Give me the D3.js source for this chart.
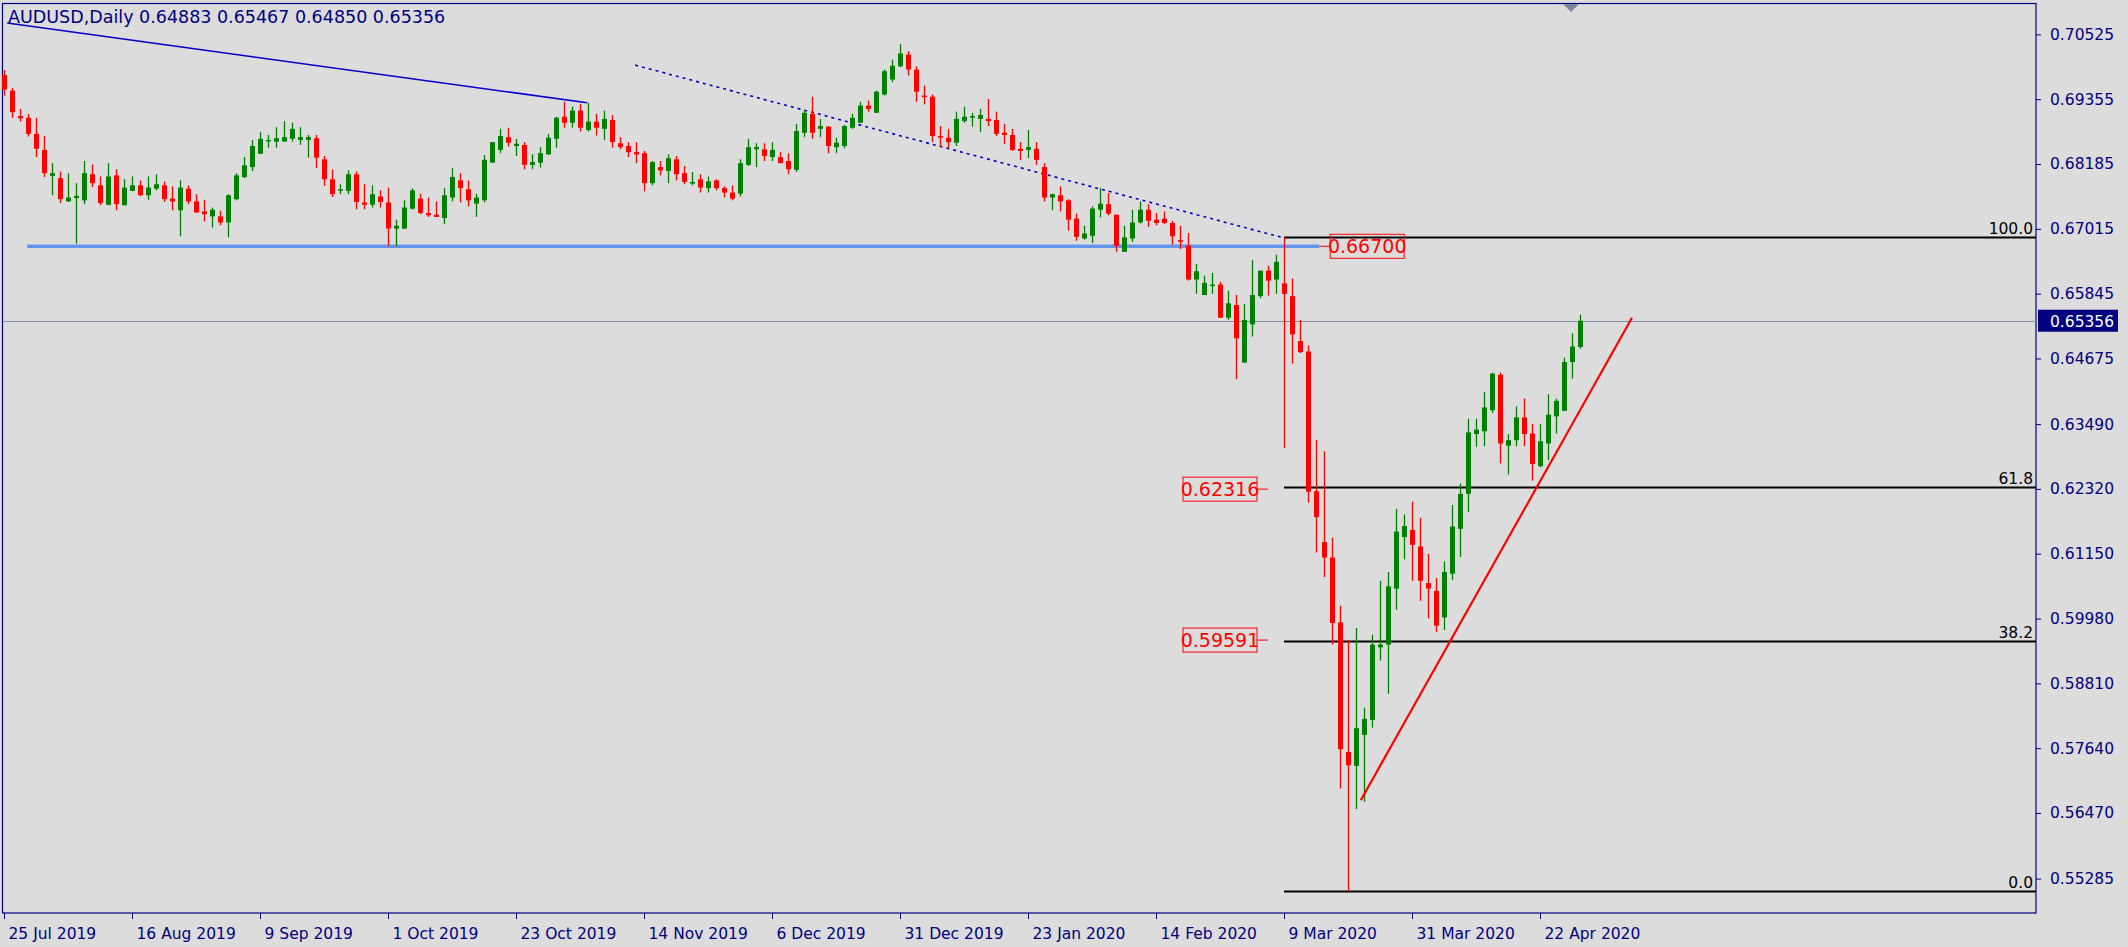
<!DOCTYPE html>
<html>
<head>
<meta charset="utf-8">
<script src="https://cdn.jsdelivr.net/npm/d3@7"></script>
<style>
  html, body { margin: 0; padding: 0; background: #dcdcdc; }
  svg { display: block; }
  text { font-family: "DejaVu Sans", Verdana, sans-serif; }
</style>
</head>
<body>
<svg width="2128" height="947"></svg>
<script>
const svg = d3.select("svg");
const width = +svg.attr("width");
const height = +svg.attr("height");

// daily AUDUSD candles
const open = [
  0.6979,0.6951,0.6905,0.6902,0.6873,0.6844,0.6797,0.6793,0.6751,0.6757,
  0.6753,0.6800,0.6780,0.6745,0.6798,0.6744,0.6770,0.6780,0.6762,0.6774,
  0.6780,0.6756,0.6735,0.6774,0.6751,0.6733,0.6724,0.6724,0.6713,0.6755,
  0.6795,0.6813,0.6837,0.6861,0.6859,0.6859,0.6864,0.6862,0.6862,0.6865,
  0.6827,0.6791,0.6771,0.6770,0.6800,0.6749,0.6745,0.6760,0.6749,0.6702,
  0.6702,0.6738,0.6756,0.6730,0.6727,0.6721,0.6758,0.6789,0.6773,0.6747,
  0.6753,0.6821,0.6844,0.6867,0.6851,0.6853,0.6817,0.6821,0.6836,0.6864,
  0.6904,0.6893,0.6915,0.6880,0.6895,0.6882,0.6898,0.6856,0.6851,0.6840,
  0.6838,0.6784,0.6813,0.6806,0.6827,0.6802,0.6784,0.6791,0.6775,0.6789,
  0.6775,0.6767,0.6765,0.6817,0.6845,0.6845,0.6831,0.6831,0.6824,0.6808,
  0.6875,0.6909,0.6882,0.6886,0.6849,0.6851,0.6884,0.6893,0.6924,0.6911,
  0.6944,0.6971,0.6995,0.7016,0.6989,0.6942,0.6940,0.6869,0.6866,0.6857,
  0.6896,0.6902,0.6900,0.6900,0.6898,0.6875,0.6871,0.6846,0.6844,0.6846,
  0.6813,0.6758,0.6762,0.6753,0.6720,0.6684,0.6689,0.6736,0.6746,0.6727,
  0.6660,0.6684,0.6713,0.6736,0.6718,0.6720,0.6712,0.6681,0.6671,0.6610,
  0.6582,0.6600,0.6601,0.6541,0.6564,0.6460,0.6529,0.6580,0.6626,0.6610,
  0.6603,0.6580,0.6499,0.6480,0.6228,0.6136,0.6108,0.5991,0.5757,0.5732,
  0.5788,0.5815,0.5946,0.5951,0.6052,0.6145,0.6158,0.6128,0.6062,0.6048,
  0.6000,0.6079,0.6160,0.6223,0.6331,0.6336,0.6374,0.6438,0.6310,0.6320,
  0.6361,0.6332,0.6273,0.6314,0.6363,0.6373,0.6461,0.64883
];
const high = [
  0.6988,0.6956,0.6918,0.6909,0.6902,0.6869,0.6820,0.6805,0.6802,0.6784,
  0.6824,0.6818,0.6796,0.6820,0.6809,0.6791,0.6796,0.6789,0.6796,0.6800,
  0.6787,0.6778,0.6789,0.6780,0.6764,0.6754,0.6740,0.6734,0.6764,0.6802,
  0.6831,0.6862,0.6876,0.6871,0.6885,0.6896,0.6893,0.6885,0.6871,0.6871,
  0.6833,0.6809,0.6782,0.6807,0.6805,0.6782,0.6780,0.6771,0.6776,0.6718,
  0.6753,0.6775,0.6765,0.6758,0.6751,0.6775,0.6811,0.6802,0.6789,0.6765,
  0.6835,0.6858,0.6882,0.6884,0.6864,0.6858,0.6836,0.6849,0.6873,0.6904,
  0.6931,0.6922,0.6927,0.6929,0.6909,0.6915,0.6907,0.6867,0.6858,0.6858,
  0.6842,0.6824,0.6824,0.6836,0.6833,0.6815,0.6804,0.6800,0.6796,0.6791,
  0.6778,0.6780,0.6827,0.6864,0.6856,0.6856,0.6858,0.6840,0.6838,0.6891,
  0.6915,0.6940,0.6900,0.6887,0.6866,0.6889,0.6909,0.6931,0.6933,0.6951,
  0.6989,0.7007,0.7035,0.7022,0.6995,0.6960,0.6944,0.6887,0.6882,0.6913,
  0.6922,0.6911,0.6918,0.6936,0.6913,0.6891,0.6882,0.6858,0.6880,0.6858,
  0.6820,0.6765,0.6778,0.6755,0.6729,0.6707,0.6742,0.6775,0.6766,0.6727,
  0.6707,0.6736,0.6751,0.6746,0.6730,0.6733,0.6716,0.6707,0.6694,0.6638,
  0.6617,0.6622,0.6606,0.6590,0.6582,0.6566,0.6645,0.6626,0.6635,0.6655,
  0.66862,0.6612,0.6537,0.6491,0.6320,0.6300,0.6144,0.6021,0.5959,0.5981,
  0.5837,0.5969,0.6066,0.6082,0.6196,0.6186,0.6209,0.6180,0.6115,0.6071,
  0.6101,0.6203,0.6242,0.6359,0.6359,0.6407,0.6442,0.6442,0.6331,0.6381,
  0.6395,0.6349,0.6349,0.6403,0.6395,0.6469,0.6513,0.65467
];
const low = [
  0.6942,0.6902,0.6895,0.6868,0.6831,0.6795,0.6762,0.6748,0.6750,0.6675,
  0.6746,0.6777,0.6744,0.6744,0.6735,0.6744,0.6770,0.6761,0.6754,0.6771,
  0.6750,0.6735,0.6688,0.6746,0.6731,0.6715,0.6704,0.6708,0.6686,0.6753,
  0.6793,0.6806,0.6837,0.6848,0.6848,0.6859,0.6859,0.6853,0.6830,0.6811,
  0.6779,0.6759,0.6764,0.6764,0.6737,0.6737,0.6740,0.6740,0.6670,0.6670,
  0.6701,0.6736,0.6728,0.6723,0.6723,0.6710,0.6751,0.6749,0.6742,0.6723,
  0.6749,0.6821,0.6838,0.6850,0.6833,0.6809,0.6809,0.6812,0.6835,0.6848,
  0.6884,0.6884,0.6877,0.6877,0.6870,0.6862,0.6848,0.6845,0.6831,0.6820,
  0.6769,0.6780,0.6798,0.6784,0.6789,0.6782,0.6780,0.6767,0.6767,0.6771,
  0.6758,0.6753,0.6760,0.6815,0.6813,0.6824,0.6824,0.6820,0.6800,0.6804,
  0.6867,0.6864,0.6867,0.6838,0.6838,0.6847,0.6882,0.6893,0.6913,0.6911,
  0.6942,0.6966,0.6993,0.6978,0.6931,0.6926,0.6858,0.6849,0.6847,0.6851,
  0.6893,0.6886,0.6876,0.6887,0.6869,0.6855,0.6842,0.6826,0.6829,0.6817,
  0.6751,0.6735,0.6733,0.6698,0.6680,0.6682,0.6676,0.6722,0.6726,0.6660,
  0.6660,0.6678,0.6711,0.6705,0.6708,0.6710,0.6673,0.6665,0.6608,0.6584,
  0.6582,0.6584,0.6541,0.6537,0.6430,0.6460,0.6507,0.6576,0.6581,0.6584,
  0.6306,0.6458,0.6477,0.6207,0.6117,0.6073,0.5951,0.5691,0.55055,0.5654,
  0.5667,0.5801,0.5922,0.5862,0.6014,0.6105,0.6066,0.6030,0.5998,0.5974,
  0.5977,0.6068,0.6109,0.6190,0.6308,0.6309,0.6369,0.6278,0.6258,0.6309,
  0.6309,0.6247,0.6271,0.6284,0.6332,0.6373,0.6431,0.64850
];
const close = [
  0.6953,0.6912,0.6901,0.6873,0.6846,0.6802,0.6802,0.6755,0.6758,0.6761,
  0.6802,0.6784,0.6748,0.6796,0.6746,0.6776,0.6780,0.6762,0.6776,0.6782,
  0.6755,0.6751,0.6776,0.6751,0.6731,0.6728,0.6736,0.6713,0.6762,0.6798,
  0.6816,0.6851,0.6864,0.6862,0.6865,0.6867,0.6882,0.6867,0.6867,0.6830,
  0.6791,0.6764,0.6773,0.6800,0.6750,0.6745,0.6764,0.6750,0.6702,0.6707,
  0.6740,0.6771,0.6730,0.6726,0.6723,0.6762,0.6795,0.6775,0.6753,0.6758,
  0.6826,0.6858,0.6869,0.6857,0.6855,0.6817,0.6822,0.6838,0.6866,0.6902,
  0.6893,0.6915,0.6884,0.6895,0.6884,0.6900,0.6858,0.6849,0.6840,0.6836,
  0.6784,0.6822,0.6807,0.6829,0.6800,0.6786,0.6786,0.6776,0.6787,0.6775,
  0.6767,0.6756,0.6820,0.6849,0.6849,0.6833,0.6844,0.6820,0.6809,0.6878,
  0.6911,0.6875,0.6887,0.6851,0.6857,0.6887,0.6902,0.6924,0.6918,0.6949,
  0.6986,0.6996,0.7018,0.6989,0.6949,0.6940,0.6869,0.6866,0.6858,0.6900,
  0.6904,0.6905,0.6907,0.6896,0.6873,0.6871,0.6844,0.6842,0.6849,0.6826,
  0.6758,0.6764,0.6751,0.6718,0.6687,0.6693,0.6738,0.6747,0.6729,0.6671,
  0.6686,0.6713,0.6736,0.6716,0.6712,0.6712,0.6688,0.6678,0.6610,0.6625,
  0.6604,0.6601,0.6541,0.6567,0.6504,0.6537,0.6582,0.6626,0.6608,0.6642,
  0.6584,0.6511,0.6479,0.6227,0.6181,0.6108,0.5990,0.5762,0.5733,0.5800,
  0.5817,0.5951,0.5951,0.6056,0.6155,0.6165,0.6131,0.6066,0.6052,0.5985,
  0.6082,0.6164,0.6223,0.6334,0.6339,0.6379,0.6440,0.6314,0.6320,0.6361,
  0.6331,0.6277,0.6318,0.6366,0.6391,0.6461,0.6489,0.65356
];

const priceTicks = [0.70525,0.69355,0.68185,0.67015,0.65845,0.64675,0.63490,
  0.62320,0.61150,0.59980,0.58810,0.57640,0.56470,0.55285];
const dateBars = [0,16,32,48,64,80,96,112,128,144,160,176,192];
const dateLabels = ["25 Jul 2019","16 Aug 2019","9 Sep 2019","1 Oct 2019","23 Oct 2019",
  "14 Nov 2019","6 Dec 2019","31 Dec 2019","23 Jan 2020","14 Feb 2020",
  "9 Mar 2020","31 Mar 2020","22 Apr 2020"];

// fibonacci from the 9 Mar high to the March low
const fibFrom = 160;
const fibHigh = 0.66862, fibLow = 0.55055;
const fibLevels = [100.0, 61.8, 38.2, 0.0];

// drawn objects: [bar, price] pairs
const trendSolid = [[0.4, 0.7073], [72.9, 0.6929]];
const trendDotted = [[78.9, 0.6997], [160, 0.6685]];
const trendRed = [[169.6, 0.5670], [203.5, 0.6541]];
const supportLevel = 0.66700;
const supportFrom = 2.9, supportTo = 164.4;
const priceMarks = [[0.66700, 164.4, "right"], [0.62316, 158, "left"], [0.59591, 158, "left"]];

const lastPrice = close[close.length - 1];
const header = "AUDUSD,Daily  " + [open, high, low, close].map(a => a[a.length - 1].toFixed(5)).join(" ");

const plotRight = 2036, plotBottom = 913;
const x = d3.scaleLinear().domain([0, 1]).range([4, 12]);
const y = d3.scaleLinear().domain([0.70525, 0.55285]).range([34.4, 878.6]);

const navy = "#000080";
const up = "#008000", down = "#ff0000";

// frame
svg.append("rect").attr("x", 2.5).attr("y", 3.5)
  .attr("width", plotRight - 2.5).attr("height", plotBottom - 3.5)
  .attr("fill", "none").attr("stroke", navy).attr("stroke-width", 1.2);

const plot = svg.append("g");

// support line (light blue, thick)
plot.append("line")
  .attr("x1", x(supportFrom)).attr("x2", x(supportTo))
  .attr("y1", y(supportLevel)).attr("y2", y(supportLevel))
  .attr("stroke", "#6495ed").attr("stroke-width", 3.5);

// current price line
plot.append("line")
  .attr("x1", 3).attr("x2", plotRight)
  .attr("y1", Math.round(y(lastPrice)) + 0.5).attr("y2", Math.round(y(lastPrice)) + 0.5)
  .attr("stroke", "#8090a8").attr("stroke-width", 1);

// fibo lines
fibLevels.forEach(lv => {
  const p = fibLow + (fibHigh - fibLow) * lv / 100;
  const yy = Math.round(y(p)) + 0.5;
  plot.append("line").attr("x1", x(fibFrom)).attr("x2", plotRight)
    .attr("y1", yy).attr("y2", yy).attr("stroke", "#000").attr("stroke-width", 2);
  plot.append("text").attr("x", plotRight - 3).attr("y", yy - 4)
    .attr("text-anchor", "end").attr("font-size", "15.5px").attr("fill", "#000")
    .text(lv.toFixed(1));
});

// trend lines
const line = d3.line().x(d => x(d[0])).y(d => y(d[1]));
plot.append("path").attr("d", line(trendSolid)).attr("fill", "none")
  .attr("stroke", "#0000cc").attr("stroke-width", 1.6);
plot.append("path").attr("d", line(trendDotted)).attr("fill", "none")
  .attr("stroke", "#0000cc").attr("stroke-width", 1.6).attr("stroke-dasharray", "3,4");

// candles
const bars = d3.range(close.length);
const candles = plot.selectAll(".candle").data(bars).enter().append("g").attr("class", "candle");
candles.append("line")
  .attr("x1", i => Math.round(x(i)) + 0.5).attr("x2", i => Math.round(x(i)) + 0.5)
  .attr("y1", i => y(high[i])).attr("y2", i => y(low[i]))
  .attr("stroke", i => close[i] >= open[i] ? up : down).attr("stroke-width", 1.3);
candles.append("rect")
  .attr("x", i => Math.round(x(i)) - 2)
  .attr("y", i => y(Math.max(open[i], close[i])))
  .attr("width", 5)
  .attr("height", i => Math.max(1.5, Math.abs(y(open[i]) - y(close[i]))))
  .attr("fill", i => close[i] >= open[i] ? up : down);

plot.append("path").attr("d", line(trendRed)).attr("fill", "none")
  .attr("stroke", "#ff0000").attr("stroke-width", 2.2);

// price marks (red boxed labels)
priceMarks.forEach(([p, bar, side]) => {
  const yy = y(p);
  const bx = x(bar);
  const w = 74, h = 24;
  const left = side === "right" ? bx + 11 : bx - 11 - w;
  const tx1 = side === "right" ? bx : bx - 11, tx2 = side === "right" ? bx + 11 : bx;
  plot.append("line").attr("x1", tx1).attr("x2", tx2).attr("y1", yy).attr("y2", yy)
    .attr("stroke", "#ff0000").attr("stroke-width", 1);
  plot.append("rect").attr("x", left).attr("y", yy - h / 2).attr("width", w).attr("height", h)
    .attr("fill", "none").attr("stroke", "#ff0000").attr("stroke-width", 1);
  plot.append("text").attr("x", left + w / 2).attr("y", yy + 7)
    .attr("text-anchor", "middle").attr("font-size", "19px").attr("fill", "#ff0000")
    .text(p.toFixed(5));
});

// right price axis
const yAxis = d3.axisRight(y).tickValues(priceTicks).tickFormat(d3.format(".5f"))
  .tickSize(5).tickPadding(9);
const ag = svg.append("g").attr("transform", `translate(${plotRight},0)`).call(yAxis);
ag.select(".domain").remove();
ag.selectAll("line").attr("stroke", navy);
ag.selectAll("text").attr("fill", navy).attr("font-size", "15.5px")
  .attr("font-family", "DejaVu Sans, Verdana, sans-serif");

// last price tag
const ly = y(lastPrice);
svg.append("rect").attr("x", plotRight + 2).attr("y", ly - 11).attr("width", 80).attr("height", 22)
  .attr("fill", navy);
svg.append("text").attr("x", plotRight + 14).attr("y", ly + 6)
  .attr("font-size", "15.5px").attr("fill", "#fff").text(lastPrice.toFixed(5));

// date axis
const dg = svg.append("g");
dateBars.forEach((b, k) => {
  const xx = Math.round(x(b)) + 0.5;
  dg.append("line").attr("x1", xx).attr("x2", xx).attr("y1", plotBottom).attr("y2", plotBottom + 6)
    .attr("stroke", navy);
  dg.append("text").attr("x", xx + 4).attr("y", 939).attr("font-size", "15.5px").attr("fill", navy)
    .text(dateLabels[k]);
});

// header
svg.append("text").attr("x", 8).attr("y", 23).attr("font-size", "17.5px").attr("fill", navy)
  .text(header);

// chart shift marker
svg.append("path").attr("d", d3.line()([[1563, 4], [1579, 4], [1571, 12]]) + "Z")
  .attr("fill", "#7a88a0");
</script>
</body>
</html>
